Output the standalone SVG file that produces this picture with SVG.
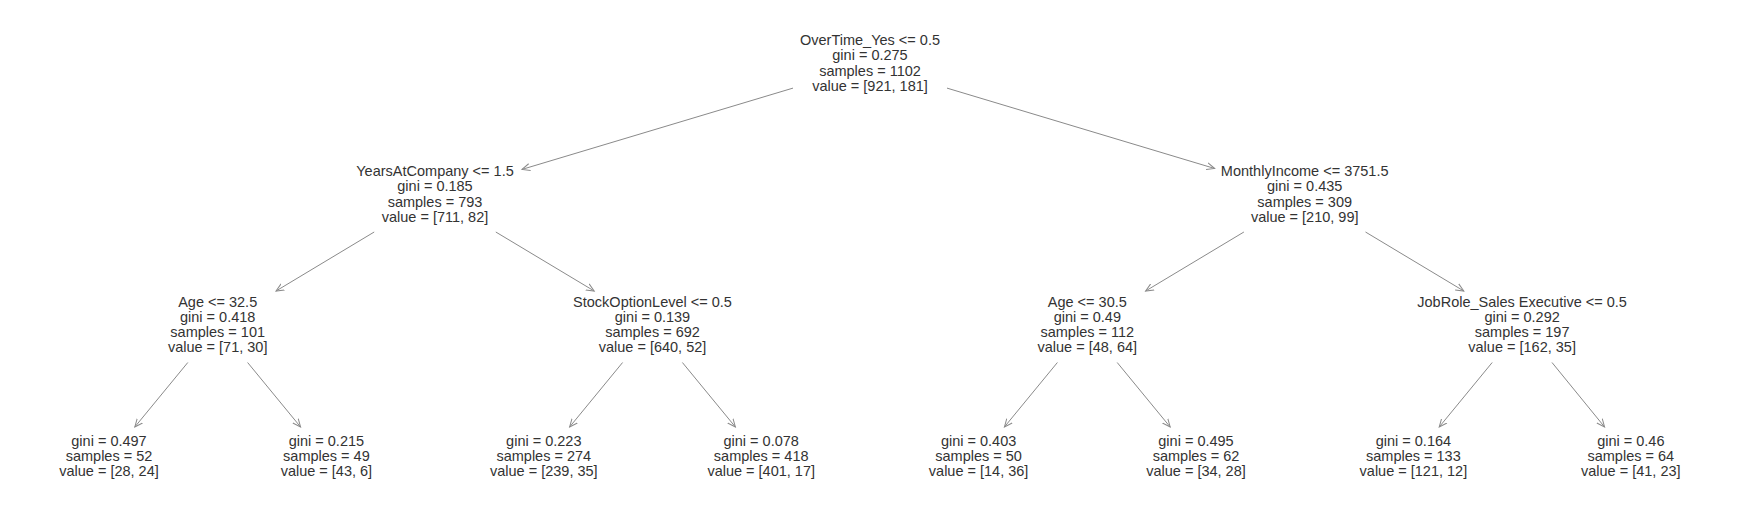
<svg xmlns="http://www.w3.org/2000/svg" width="1742" height="526" viewBox="0 0 1742 526">
<style>
  .n text { font-family: "Liberation Sans", Arial, sans-serif; font-size: 14.5px; fill: #333333; text-anchor: middle; }
  .e line { stroke: #8a8a8a; stroke-width: 1; fill: none; marker-end: url(#ah); }
</style>
<defs>
  <marker id="ah" markerUnits="userSpaceOnUse" markerWidth="10" markerHeight="10" refX="8" refY="3.5" orient="auto" viewBox="0 0 10 7">
    <path d="M0,0 L8,3.5 L0,7" fill="none" stroke="#8a8a8a" stroke-width="1"/>
  </marker>
</defs>
<rect width="1742" height="526" fill="#ffffff"/>
<g id="connectors" class="e">
  <line x1="793" y1="88.1" x2="522" y2="169.4"/>
  <line x1="947" y1="88.1" x2="1214.7" y2="168.5"/>
  <line x1="374.2" y1="232" x2="276" y2="291"/>
  <line x1="495.8" y1="232" x2="594.2" y2="291"/>
  <line x1="1243.9" y1="232" x2="1145.6" y2="291"/>
  <line x1="1365.5" y1="232" x2="1463.8" y2="291"/>
  <line x1="187.8" y1="362.5" x2="134.8" y2="427"/>
  <line x1="247.6" y1="362.5" x2="300.6" y2="427"/>
  <line x1="622.6" y1="362.5" x2="569.6" y2="427"/>
  <line x1="682.4" y1="362.5" x2="735.4" y2="427"/>
  <line x1="1057.4" y1="362.5" x2="1004.4" y2="427"/>
  <line x1="1117.2" y1="362.5" x2="1170.2" y2="427"/>
  <line x1="1492.2" y1="362.5" x2="1439.2" y2="427"/>
  <line x1="1552" y1="362.5" x2="1604.6" y2="427"/>
</g>
<g id="node0" class="n">
  <text x="870" y="45">OverTime_Yes &lt;= 0.5</text>
  <text x="870" y="60.3">gini = 0.275</text>
  <text x="870" y="75.6">samples = 1102</text>
  <text x="870" y="90.9">value = [921, 181]</text>
</g>
<g id="node1" class="n">
  <text x="435" y="176">YearsAtCompany &lt;= 1.5</text>
  <text x="435" y="191.3">gini = 0.185</text>
  <text x="435" y="206.6">samples = 793</text>
  <text x="435" y="221.9">value = [711, 82]</text>
</g>
<g id="node2" class="n">
  <text x="217.7" y="306.5">Age &lt;= 32.5</text>
  <text x="217.7" y="321.8">gini = 0.418</text>
  <text x="217.7" y="337.1">samples = 101</text>
  <text x="217.7" y="352.4">value = [71, 30]</text>
</g>
<g id="node3" class="n">
  <text x="109" y="445.8">gini = 0.497</text>
  <text x="109" y="461.1">samples = 52</text>
  <text x="109" y="476.4">value = [28, 24]</text>
</g>
<g id="node4" class="n">
  <text x="326.4" y="445.8">gini = 0.215</text>
  <text x="326.4" y="461.1">samples = 49</text>
  <text x="326.4" y="476.4">value = [43, 6]</text>
</g>
<g id="node5" class="n">
  <text x="652.5" y="306.5">StockOptionLevel &lt;= 0.5</text>
  <text x="652.5" y="321.8">gini = 0.139</text>
  <text x="652.5" y="337.1">samples = 692</text>
  <text x="652.5" y="352.4">value = [640, 52]</text>
</g>
<g id="node6" class="n">
  <text x="543.8" y="445.8">gini = 0.223</text>
  <text x="543.8" y="461.1">samples = 274</text>
  <text x="543.8" y="476.4">value = [239, 35]</text>
</g>
<g id="node7" class="n">
  <text x="761.2" y="445.8">gini = 0.078</text>
  <text x="761.2" y="461.1">samples = 418</text>
  <text x="761.2" y="476.4">value = [401, 17]</text>
</g>
<g id="node8" class="n">
  <text x="1304.7" y="176">MonthlyIncome &lt;= 3751.5</text>
  <text x="1304.7" y="191.3">gini = 0.435</text>
  <text x="1304.7" y="206.6">samples = 309</text>
  <text x="1304.7" y="221.9">value = [210, 99]</text>
</g>
<g id="node9" class="n">
  <text x="1087.3" y="306.5">Age &lt;= 30.5</text>
  <text x="1087.3" y="321.8">gini = 0.49</text>
  <text x="1087.3" y="337.1">samples = 112</text>
  <text x="1087.3" y="352.4">value = [48, 64]</text>
</g>
<g id="node10" class="n">
  <text x="978.6" y="445.8">gini = 0.403</text>
  <text x="978.6" y="461.1">samples = 50</text>
  <text x="978.6" y="476.4">value = [14, 36]</text>
</g>
<g id="node11" class="n">
  <text x="1196" y="445.8">gini = 0.495</text>
  <text x="1196" y="461.1">samples = 62</text>
  <text x="1196" y="476.4">value = [34, 28]</text>
</g>
<g id="node12" class="n">
  <text x="1522.1" y="306.5">JobRole_Sales Executive &lt;= 0.5</text>
  <text x="1522.1" y="321.8">gini = 0.292</text>
  <text x="1522.1" y="337.1">samples = 197</text>
  <text x="1522.1" y="352.4">value = [162, 35]</text>
</g>
<g id="node13" class="n">
  <text x="1413.4" y="445.8">gini = 0.164</text>
  <text x="1413.4" y="461.1">samples = 133</text>
  <text x="1413.4" y="476.4">value = [121, 12]</text>
</g>
<g id="node14" class="n">
  <text x="1630.8" y="445.8">gini = 0.46</text>
  <text x="1630.8" y="461.1">samples = 64</text>
  <text x="1630.8" y="476.4">value = [41, 23]</text>
</g>
</svg>
